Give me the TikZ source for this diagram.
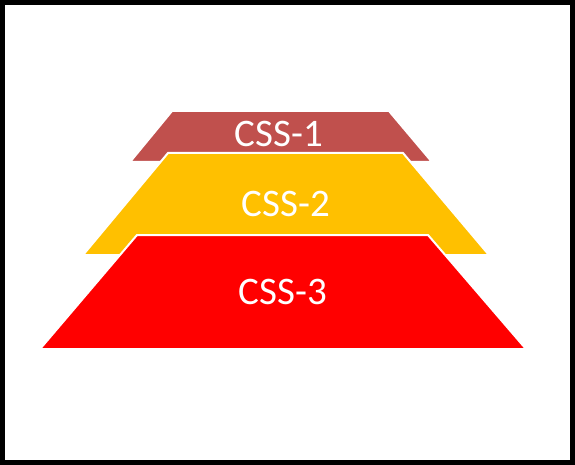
\documentclass[tikz,border=0pt]{standalone}
\usepackage{fontspec}
\setmainfont{Carlito}
\definecolor{tier1}{HTML}{C0504D}
\definecolor{tier2}{HTML}{FFC000}
\definecolor{tier3}{HTML}{FF0000}
\begin{document}
\begin{tikzpicture}[x=1pt,y=-1pt,
  tier/.style={draw=white,line width=2pt,line join=miter},
  lbl/.style={text=white,font=\fontsize{39}{42}\selectfont,inner sep=0pt,anchor=center}]
\useasboundingbox (0,0) rectangle (575,465);
\fill[white] (0,0) rectangle (575,465);
\draw[black,line width=5pt] (2.5,2.5) rectangle (572.5,462.5);
\path[tier,fill=tier1] (172,111) -- (389,111) -- (432,162) -- (130,162) -- cycle;
\path[tier,fill=tier2] (168,153) -- (403,153) -- (489,255) -- (83,255) -- cycle;
\path[tier,fill=tier3] (137,235) -- (428,235) -- (526,349) -- (40,349) -- cycle;
\node[lbl] (c1) at (279,134) {CSS-1};
\node[lbl] (c2) at (286,204) {CSS-2};
\node[lbl] (c3) at (283,292) {CSS-3};
\end{tikzpicture}
\end{document}
